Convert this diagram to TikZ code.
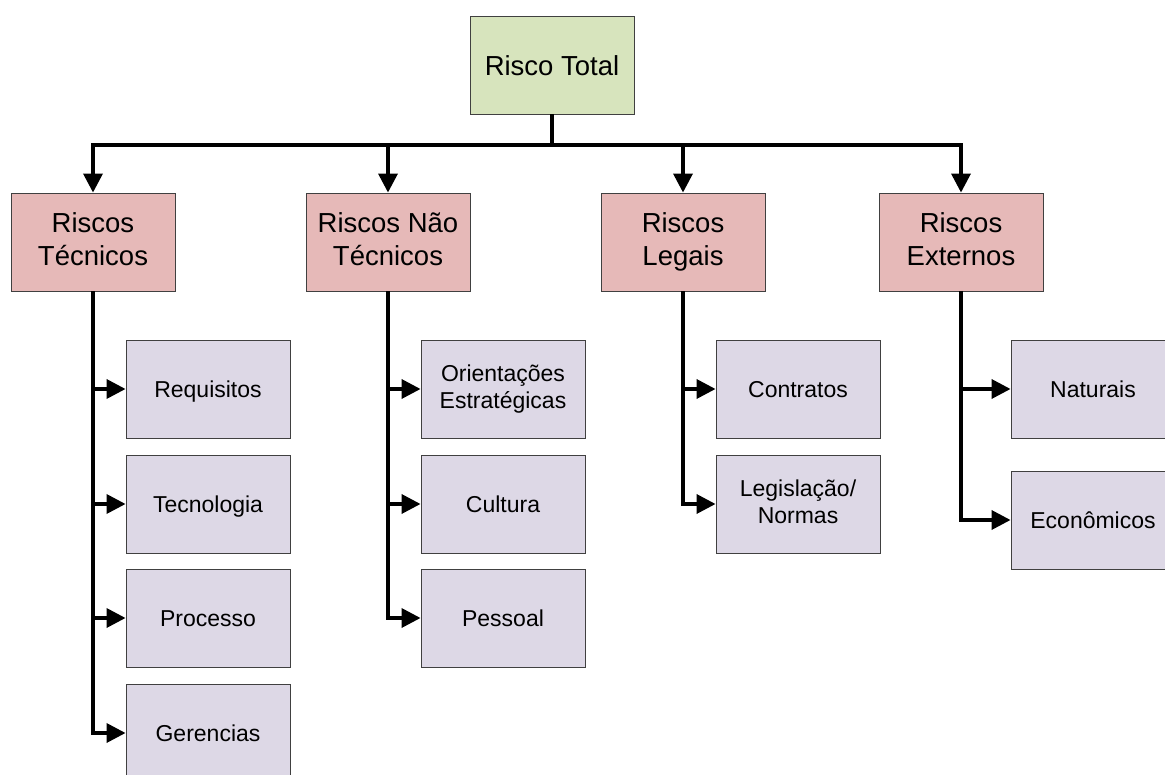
\documentclass[tikz,border=0pt]{standalone}
\usepackage{fontspec}
\setmainfont{Liberation Sans}
\usepackage{xcolor}
\usetikzlibrary{arrows.meta}
\definecolor{totalfill}{HTML}{D7E4BD}
\definecolor{riskfill}{HTML}{E6B9B8}
\definecolor{subfill}{HTML}{DDD8E6}
\definecolor{edgegray}{HTML}{404040}
\newcommand{\boxstrut}{\rule[-0.18\baselineskip]{0pt}{\baselineskip}}
\begin{document}
\begin{tikzpicture}[x=1pt, y=-1pt,
    box/.style={draw=edgegray, line width=0.9pt, inner sep=0pt, minimum width=164pt, minimum height=98pt, align=center,
      execute at begin node=\boxstrut, execute at end node=\boxstrut},
    totalbox/.style={box, fill=totalfill, font=\fontsize{27.5}{33}\selectfont},
    riskbox/.style={box, fill=riskfill, font=\fontsize{27.5}{33}\selectfont},
    subbox/.style={box, fill=subfill, font=\fontsize{23}{27.6}\selectfont},
    link/.style={line width=3.5pt, -{Triangle[length=19pt, width=19pt]}}]
          \useasboundingbox (0,0) rectangle (1165,775);
          \node[totalbox] (total) at (552,65) {Risco Total};
          \node[riskbox] (tec) at (93,242) {Riscos\\Técnicos};
          \node[riskbox] (naotec) at (388,242) {Riscos Não\\Técnicos};
          \node[riskbox] (leg) at (683,242) {Riscos\\Legais};
          \node[riskbox] (ext) at (961,242) {Riscos\\Externos};
          \node[subbox] (req) at (208,389) {Requisitos};
          \node[subbox] (tecno) at (208,504) {Tecnologia};
          \node[subbox] (proc) at (208,618) {Processo};
          \node[subbox] (ger) at (208,733) {Gerencias};
          \node[subbox] (orient) at (503,389) {Orientações\\Estratégicas};
          \node[subbox] (cult) at (503,504) {Cultura};
          \node[subbox] (pess) at (503,618) {Pessoal};
          \node[subbox] (contr) at (798,389) {Contratos};
          \node[subbox] (legis) at (798,504) {Legislação/\\Normas};
          \node[subbox] (nat) at (1093,389) {Naturais};
          \node[subbox] (econ) at (1093,520) {Econômicos};
          \coordinate (bus) at (552,145);
          \foreach \kid in {tec, naotec, leg, ext}
            \draw[link] (total.south) -- (bus) -| (\kid.north);
          \foreach \kid in {req, tecno, proc, ger}
            \draw[link] (tec.south) |- (\kid.west);
          \foreach \kid in {orient, cult, pess}
            \draw[link] (naotec.south) |- (\kid.west);
          \foreach \kid in {contr, legis}
            \draw[link] (leg.south) |- (\kid.west);
          \foreach \kid in {nat, econ}
            \draw[link] (ext.south) |- (\kid.west);
        \end{tikzpicture}
\end{document}
